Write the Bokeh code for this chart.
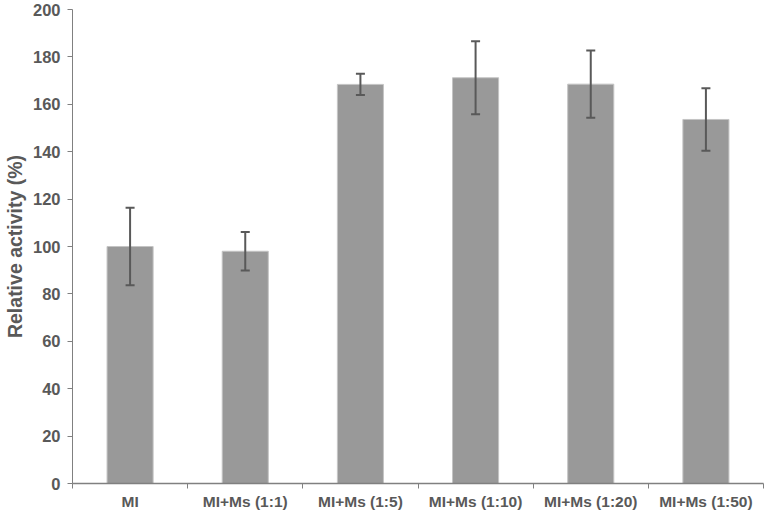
import numpy as np
from bokeh.plotting import figure
from bokeh.models import ColumnDataSource, FixedTicker, Whisker, TeeHead, Range1d
from bokeh.embed import file_html
from bokeh.resources import INLINE

categories = ["MI", "MI+Ms (1:1)", "MI+Ms (1:5)", "MI+Ms (1:10)", "MI+Ms (1:20)", "MI+Ms (1:50)"]
activity = [100.0, 98.0, 168.4, 171.2, 168.5, 153.6]
error = [16.4, 8.1, 4.5, 15.4, 14.2, 13.2]
y_ticks = [0, 20, 40, 60, 80, 100, 120, 140, 160, 180, 200]

x_pos = np.arange(len(categories)) + 0.5
act = np.array(activity)
err = np.array(error)
src = ColumnDataSource(dict(x=x_pos, top=act, upper=act + err, lower=act - err))

p = figure(width=764, height=522, output_backend="svg", toolbar_location=None,
           x_range=Range1d(0, len(categories)), y_range=Range1d(0, 200),
           min_border_left=71, min_border_right=1, min_border_top=9, min_border_bottom=39)
p.outline_line_color = None
p.xgrid.visible = False
p.ygrid.visible = False

p.vbar(x="x", top="top", width=0.4, source=src, fill_color="#999999",
       line_color="#c4c4c4", line_width=1)

w = Whisker(base="x", upper="upper", lower="lower", source=src, level="overlay",
            line_color="#595959", line_width=2,
            upper_head=TeeHead(size=9, line_color="#595959", line_width=2),
            lower_head=TeeHead(size=9, line_color="#595959", line_width=2))
p.add_layout(w)

font = "Liberation Sans"
label_color = "#595959"
axis_color = "#808080"

xa = p.xaxis[0]
xa.ticker = FixedTicker(ticks=list(x_pos), minor_ticks=list(range(len(categories) + 1)))
xa.major_label_overrides = {float(x): c for x, c in zip(x_pos, categories)}
xa.major_tick_out = 0
xa.major_tick_in = 0
xa.minor_tick_out = 5
xa.minor_tick_in = 0
xa.minor_tick_line_color = axis_color
xa.axis_line_color = axis_color
xa.axis_line_width = 1.5
xa.major_label_text_font = font
xa.major_label_text_font_style = "bold"
xa.major_label_text_font_size = "15.5px"
xa.major_label_text_color = label_color
xa.major_label_standoff = 4

ya = p.yaxis[0]
ya.ticker = FixedTicker(ticks=y_ticks)
ya.major_tick_out = 5
ya.major_tick_in = 0
ya.minor_tick_out = 0
ya.minor_tick_in = 0
ya.major_tick_line_color = axis_color
ya.axis_line_color = axis_color
ya.major_label_text_font = font
ya.major_label_text_font_style = "bold"
ya.major_label_text_font_size = "16.5px"
ya.major_label_text_color = label_color
ya.major_label_standoff = 7
ya.axis_label = "Relative activity (%)"
ya.axis_label_text_font = font
ya.axis_label_text_font_style = "bold"
ya.axis_label_text_font_size = "19.5px"
ya.axis_label_text_color = label_color
ya.axis_label_standoff = 4

open("out.html", "w").write(file_html(p, INLINE))
